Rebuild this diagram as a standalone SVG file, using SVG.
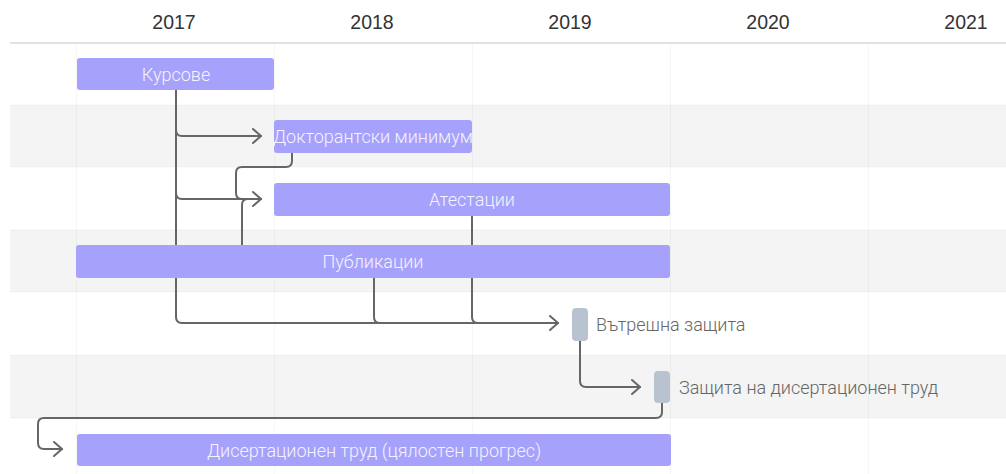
<svg xmlns="http://www.w3.org/2000/svg" width="1006" height="474" viewBox="0 0 1006 474">
<defs>
<style>
.year{font-family:"Liberation Sans",Arial,sans-serif;font-size:19.5px;fill:#333;text-anchor:middle}
.bar{fill:#a6a1fb}
.ms{fill:#b9c3cf}
.blabel{font-family:Roboto,"Liberation Sans",sans-serif;font-weight:300;font-size:18px;fill:#f4f4ff;text-anchor:middle}
.mlabel{font-family:Roboto,"Liberation Sans",sans-serif;font-weight:300;font-size:18px;fill:#666}
.conn{fill:none;stroke:#666;stroke-width:2;stroke-linecap:round;stroke-linejoin:round}
.grid{stroke:#000;stroke-opacity:0.035;stroke-width:1}
</style>
</defs>
<rect x="0" y="0" width="1006" height="474" fill="#fff"/>
<g id="rows">
<rect x="10" y="105" width="996" height="62" fill="#f4f4f4"/>
<rect x="10" y="230" width="996" height="62" fill="#f4f4f4"/>
<rect x="10" y="355" width="996" height="63" fill="#f4f4f4"/>
<g class="grid">
<line x1="10" y1="105" x2="1006" y2="105"/>
<line x1="10" y1="167" x2="1006" y2="167"/>
<line x1="10" y1="230" x2="1006" y2="230"/>
<line x1="10" y1="292" x2="1006" y2="292"/>
<line x1="10" y1="355" x2="1006" y2="355"/>
<line x1="10" y1="418" x2="1006" y2="418"/>
<line x1="76.5" y1="44" x2="76.5" y2="474"/>
<line x1="274.5" y1="44" x2="274.5" y2="474"/>
<line x1="472.5" y1="44" x2="472.5" y2="474"/>
<line x1="670.5" y1="44" x2="670.5" y2="474"/>
<line x1="868.5" y1="44" x2="868.5" y2="474"/>
</g>
</g>
<g id="header">
<rect x="10" y="42" width="996" height="2" fill="#e2e2e2"/>
<text class="year" x="174" y="28.5">2017</text>
<text class="year" x="372" y="28.5">2018</text>
<text class="year" x="570" y="28.5">2019</text>
<text class="year" x="768" y="28.5">2020</text>
<text class="year" x="966" y="28.5">2021</text>
</g>
<g id="connectors" class="conn">
<path d="M176,90 V317 Q176,323 182,323 H558"/>
<path d="M176,130 Q176,136 182,136 H261"/>
<path d="M176,193 Q176,199 182,199 H261"/>
<path d="M253,129 L261,136 L253,143"/>
<path d="M292,153 V161 Q292,167 286,167 H242 Q236,167 236,173 V193 Q236,199 242,199 H261"/>
<path d="M242,245 V205 Q242,199 248,199 H261"/>
<path d="M253,192 L261,199 L253,206"/>
<path d="M374,278 V317 Q374,323 380,323 H558"/>
<path d="M472,216 V317 Q472,323 478,323 H558"/>
<path d="M550,316 L558,323 L550,330"/>
<path d="M580,341 V381 Q580,387 586,387 H640"/>
<path d="M632,380 L640,387 L632,394"/>
<path d="M662,403 V412 Q662,418 656,418 H44 Q38,418 38,424 V443 Q38,449 44,449 H62"/>
<path d="M54,442 L62,449 L54,456"/>
</g>
<g id="node-kursove">
<rect class="bar" x="77" y="58" width="197" height="32" rx="3"/>
<text class="blabel" x="176" y="80.5">Курсове</text>
</g>
<g id="node-minimum">
<rect class="bar" x="274" y="120" width="198" height="33" rx="3"/>
<text class="blabel" x="373" y="143">Докторантски минимум</text>
</g>
<g id="node-atestacii">
<rect class="bar" x="274" y="183" width="396" height="33" rx="3"/>
<text class="blabel" x="472" y="206">Атестации</text>
</g>
<g id="node-publikacii">
<rect class="bar" x="76" y="245" width="594" height="33" rx="3"/>
<text class="blabel" x="373" y="268">Публикации</text>
</g>
<g id="node-vatreshna">
<rect class="ms" x="572" y="308" width="16" height="33" rx="4"/>
<text class="mlabel" x="596" y="331">Вътрешна защита</text>
</g>
<g id="node-zashtita">
<rect class="ms" x="654" y="371" width="16" height="32" rx="4"/>
<text class="mlabel" x="679" y="394">Защита на дисертационен труд</text>
</g>
<g id="node-disertacionen">
<rect class="bar" x="77" y="434" width="594" height="32" rx="3"/>
<text class="blabel" x="374" y="457">Дисертационен труд (цялостен прогрес)</text>
</g>
</svg>
